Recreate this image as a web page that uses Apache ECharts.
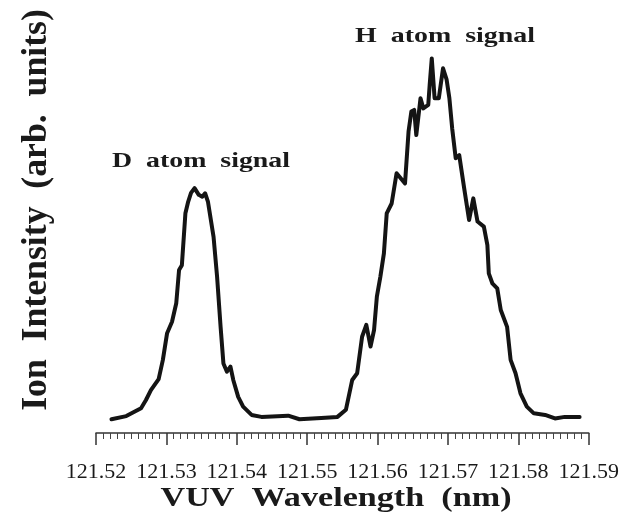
<!DOCTYPE html>
<html>
<head>
<meta charset="utf-8">
<title>VUV spectrum</title>
<script src="https://cdn.jsdelivr.net/npm/echarts@6/dist/echarts.min.js"></script>
<style>
  html, body { margin: 0; padding: 0; background: #fff; }
  #chart { width: 622px; height: 518px; }
</style>
</head>
<body>
<div id="chart"></div>
<script>
// x tick values (nm)
const xTicks = [121.52, 121.53, 121.54, 121.55, 121.56, 121.57, 121.58, 121.59]

// wavelength (nm)
const wavelength = [
  121.5222, 121.5243, 121.5264, 121.5271, 121.5278, 121.5289, 121.5295, 121.5301,
  121.5308, 121.5314, 121.5318, 121.5322, 121.5327, 121.5331, 121.5335, 121.5340,
  121.5346, 121.5351, 121.5355, 121.5359, 121.5367, 121.5372, 121.5377, 121.5381,
  121.5386, 121.5391, 121.5395, 121.5402, 121.5409, 121.5421, 121.5435, 121.5473,
  121.5489, 121.5520, 121.5543, 121.5555, 121.5564, 121.5571, 121.5578, 121.5584,
  121.5590, 121.5595, 121.5599, 121.5604, 121.5609, 121.5613, 121.5620, 121.5627,
  121.5639, 121.5644, 121.5648, 121.5652, 121.5655, 121.5661, 121.5665, 121.5672,
  121.5674, 121.5677, 121.5681, 121.5687, 121.5693, 121.5698, 121.5702, 121.5706,
  121.5711, 121.5716, 121.5723, 121.5730, 121.5736, 121.5742, 121.5751, 121.5756,
  121.5758, 121.5763, 121.5770, 121.5775, 121.5784, 121.5789, 121.5796, 121.5803,
  121.5812, 121.5822, 121.5838, 121.5852, 121.5866, 121.5887
]

// ion intensity (arb. units)
const intensity = [
  3.5, 4.3, 6.3, 8.4, 10.9, 13.7, 18.6, 25.4,
  28.3, 33.0, 41.5, 42.7, 55.9, 58.9, 61.1, 62.3,
  60.6, 60.1, 61.0, 58.9, 49.9, 39.8, 27.0, 17.7,
  15.6, 16.9, 13.5, 9.2, 6.7, 4.6, 4.1, 4.4,
  3.5, 3.8, 4.1, 5.9, 13.5, 15.2, 24.5, 27.5,
  22.0, 26.2, 34.7, 39.8, 45.7, 55.9, 58.4, 66.1,
  63.5, 76.7, 81.8, 82.2, 75.8, 85.2, 82.6, 83.5,
  88.5, 95.3, 85.2, 85.2, 92.8, 90.0, 85.2, 77.5,
  69.9, 70.7, 62.3, 54.2, 59.7, 53.8, 52.5, 47.8,
  40.6, 38.1, 36.8, 31.3, 27.0, 18.6, 15.2, 10.1,
  6.7, 5.0, 4.6, 3.7, 4.1, 4.1
]

const chart = echarts.init(document.getElementById('chart'))

const serif = '"Liberation Serif", "Times New Roman", serif'

// bold serif label, stretched sideways like the scanned figure
const label = (text, x, y, size, scaleX, rotation) => ({
  type: 'text',
  x: x,
  y: y,
  scaleX: scaleX,
  rotation: rotation || 0,
  silent: true,
  style: {
    text: text,
    x: 0,
    y: 0,
    font: 'bold ' + size + 'px ' + serif,
    fill: '#1a1a1a',
    align: 'center',
    verticalAlign: 'middle',
    textAlign: 'center',
    textVerticalAlign: 'middle'
  }
})

const option = {
  animation: false,
  backgroundColor: '#fff',
  grid: {
    left: 96,
    right: 29,
    top: 40,
    bottom: 85
  },
  xAxis: {
    type: 'value',
    min: xTicks[0],
    max: xTicks[xTicks.length - 1],
    interval: 0.01,
    axisLine: {
      show: true,
      lineStyle: { color: '#333', width: 1.5 }
    },
    axisTick: {
      show: true,
      length: 12,
      lineStyle: { color: '#333', width: 1.5 }
    },
    // short ticks every 0.001 nm
    minorTick: {
      show: true,
      splitNumber: 10,
      length: 6,
      lineStyle: { color: '#444', width: 1 }
    },
    splitLine: { show: false },
    minorSplitLine: { show: false },
    axisLabel: {
      margin: 28,
      color: '#1a1a1a',
      fontFamily: serif,
      fontSize: 22,
      formatter: v => v.toFixed(2)
    }
  },
  yAxis: {
    type: 'value',
    min: 0,
    max: 100,
    show: false
  },
  graphic: [
    label('Ion  Intensity  (arb.  units)', 37, 210, 35, 1.02, Math.PI / 2),
    label('VUV  Wavelength  (nm)', 336, 499, 27, 1.265),
    label('D  atom  signal', 201, 161, 22, 1.266),
    label('H  atom  signal', 445, 36, 22, 1.27)
  ],
  series: [
    {
      type: 'line',
      data: wavelength.map((w, i) => [w, intensity[i]]),
      showSymbol: false,
      smooth: false,
      lineStyle: {
        color: '#141414',
        width: 4,
        cap: 'round',
        join: 'round'
      }
    }
  ]
}

chart.setOption(option)
</script>
</body>
</html>
